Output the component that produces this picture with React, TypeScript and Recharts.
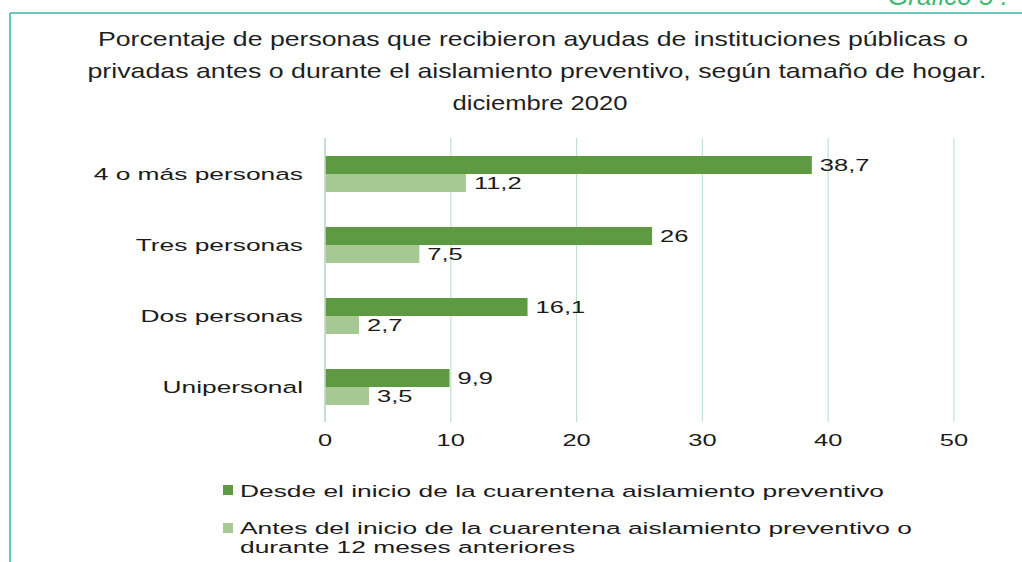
import { BarChart, Bar, XAxis, YAxis, CartesianGrid, LabelList } from 'recharts';

const categories = ['4 o más personas', 'Tres personas', 'Dos personas', 'Unipersonal'];
const desdeInicio = [38.7, 26, 16.1, 9.9];
const antesInicio = [11.2, 7.5, 2.7, 3.5];
const xTicks = [0, 10, 20, 30, 40, 50];
const seriesNames = [
  'Desde el inicio de la cuarentena aislamiento preventivo',
  'Antes del inicio de la cuarentena aislamiento preventivo o',
  'durante 12 meses anteriores',
];
const titleLines = [
  'Porcentaje de personas que recibieron ayudas de instituciones públicas o',
  'privadas antes o durante el aislamiento preventivo, según tamaño de hogar.',
  'diciembre 2020',
];

const data = categories.map((c, i) => ({ cat: c, desde: desdeInicio[i], antes: antesInicio[i] }));

const DARK = '#5e9a42';
const LIGHT = '#a6c993';
const FONT = '"Liberation Sans", Arial, sans-serif';
const S = 1.55; // the source image is stretched sideways

const fmt = (v: number) => String(v).replace('.', ',');

function Stretched({ x, y, anchor, children, size = 17, sx = S }: any) {
  return (
    <text transform={`translate(${x},${y}) scale(${sx},1)`} textAnchor={anchor}
      fontSize={size} fontFamily={FONT} fill="#1b1b1b">
      {children}
    </text>
  );
}

const CatTick = (p: any) => (
  <Stretched x={p.x} y={p.y + 6} anchor="end">{p.payload.value}</Stretched>
);

const NumTick = (p: any) => (
  <Stretched x={p.x} y={p.y + 12} anchor="middle" sx={1.5}>{p.payload.value}</Stretched>
);

const ValueLabel = (p: any) => (
  <Stretched x={p.x + p.width + 8} y={p.y + p.height / 2 + 6} anchor="start" sx={1.5}>{fmt(p.value)}</Stretched>
);

export default function App() {
  return (
    <div style={{ position: 'absolute', left: 0, top: 0, width: 1022, height: 562, background: '#fff', overflow: 'hidden' }}>
      <BarChart width={1022} height={562} data={data} layout="vertical"
        margin={{ top: 138, right: 68, bottom: 110, left: 0 }} barGap={0}>
        <CartesianGrid horizontal={false} stroke="#bfe3d0" strokeWidth={1.2} />
        <XAxis type="number" domain={[0, 50]} ticks={xTicks} axisLine={false} tickLine={false}
          tickSize={0} tickMargin={12} height={30} tick={<NumTick />} />
        <YAxis type="category" dataKey="cat" width={325} axisLine={{ stroke: '#c4d8cb', strokeWidth: 1.5 }}
          tickLine={false} tickSize={0} tickMargin={22} tick={<CatTick />} />
        <Bar dataKey="desde" fill={DARK} barSize={18} isAnimationActive={false}>
          <LabelList dataKey="desde" content={<ValueLabel />} />
        </Bar>
        <Bar dataKey="antes" fill={LIGHT} barSize={18} isAnimationActive={false}>
          <LabelList dataKey="antes" content={<ValueLabel />} />
        </Bar>
      </BarChart>

      <svg width={1022} height={562} style={{ position: 'absolute', left: 0, top: 0, pointerEvents: 'none' }}>
        <line x1={10} y1={13} x2={1022} y2={13} stroke="#3fb0a6" strokeWidth={1.5} />
        <line x1={10} y1={13} x2={10} y2={562} stroke="#3fb0a6" strokeWidth={1.5} />
        <text x={888} y={5} fontSize={26} fontStyle="italic" fontFamily={FONT} fill="#3cba70">Gráfico 5 .</text>

        <text x={533} y={46} textAnchor="middle" fontSize={21} fontFamily={FONT} fill="#1f1f1f"
          textLength={870} lengthAdjust="spacingAndGlyphs">{titleLines[0]}</text>
        <text x={537} y={78} textAnchor="middle" fontSize={21} fontFamily={FONT} fill="#1f1f1f"
          textLength={899} lengthAdjust="spacingAndGlyphs">{titleLines[1]}</text>
        <text x={540} y={110} textAnchor="middle" fontSize={21} fontFamily={FONT} fill="#1f1f1f"
          textLength={175} lengthAdjust="spacingAndGlyphs">{titleLines[2]}</text>

        <rect x={223} y={485} width={10} height={10} fill={DARK} />
        <Stretched x={240} y={497} anchor="start">{seriesNames[0]}</Stretched>
        <rect x={223} y={523} width={10} height={10} fill={LIGHT} />
        <Stretched x={240} y={534} anchor="start">{seriesNames[1]}</Stretched>
        <Stretched x={240} y={553} anchor="start">{seriesNames[2]}</Stretched>
      </svg>
    </div>
  );
}
